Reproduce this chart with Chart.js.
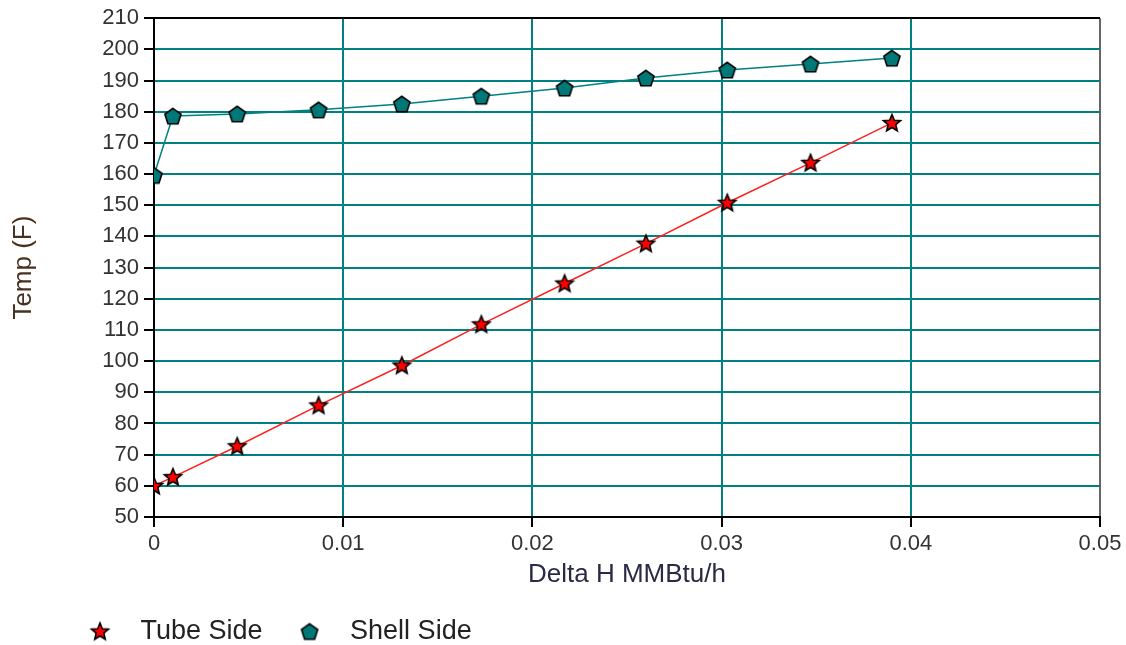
<!DOCTYPE html>
<html>
<head>
<meta charset="utf-8">
<script src="https://cdn.jsdelivr.net/npm/chart.js@4"></script>
<style>
  html, body { margin: 0; padding: 0; background: #fff; }
  #wrap { width: 1126px; height: 645px; }
</style>
</head>
<body>
<div id="wrap"><canvas id="tempChart" width="1126" height="645"></canvas></div>
<script>
// values
const tubeX = [0, 0.001, 0.0044, 0.0087, 0.0131, 0.0173, 0.0217, 0.026, 0.0303, 0.0347, 0.039];
const tubeTemp = [60, 62.8, 72.7, 85.8, 98.6, 111.8, 124.9, 137.7, 150.8, 163.6, 176.4];
const shellX = [0, 0.001, 0.0044, 0.0087, 0.0131, 0.0173, 0.0217, 0.026, 0.0303, 0.0347, 0.039];
const shellTemp = [159.6, 178.6, 179.3, 180.6, 182.5, 185, 187.6, 190.8, 193.4, 195.3, 197.2];
const xTicks = [0, 0.01, 0.02, 0.03, 0.04, 0.05];

const TEAL = '#008080';

// little marker images: red star and teal pentagon, both black edged
function marker(kind, fill) {
  const c = document.createElement('canvas');
  c.width = 22; c.height = 22;
  const g = c.getContext('2d');
  g.beginPath();
  if (kind === 'star') {
    for (let i = 0; i < 10; i++) {
      const r = i % 2 === 0 ? 9 : 4;
      const a = -Math.PI / 2 + i * Math.PI / 5;
      const px = 11 + r * Math.cos(a), py = 11.5 + r * Math.sin(a);
      i === 0 ? g.moveTo(px, py) : g.lineTo(px, py);
    }
  } else {
    for (let i = 0; i < 5; i++) {
      const a = -Math.PI / 2 + i * 2 * Math.PI / 5;
      const px = 11 + 8.5 * Math.cos(a), py = 11.8 + 8.5 * Math.sin(a);
      i === 0 ? g.moveTo(px, py) : g.lineTo(px, py);
    }
  }
  g.closePath();
  g.fillStyle = fill;
  g.fill();
  g.lineWidth = 1.6;
  g.strokeStyle = '#000';
  g.stroke();
  return c;
}
const starImg = marker('star', '#ff0000');
const pentImg = marker('pent', '#007878');

const toPts = (xs, ys) => xs.map((x, i) => ({ x: x, y: ys[i] }));

const ctx = document.getElementById('tempChart').getContext('2d');
const tempChart = new Chart(ctx, {
  type: 'line',
  data: {
    datasets: [{
      label: 'Tube Side',
      data: toPts(tubeX, tubeTemp),
      borderColor: '#ff2020',
      borderWidth: 1.5,
      pointStyle: starImg,
      tension: 0
    }, {
      label: 'Shell Side',
      data: toPts(shellX, shellTemp),
      borderColor: TEAL,
      borderWidth: 1.5,
      pointStyle: pentImg,
      tension: 0
    }]
  },
  options: {
    responsive: false,
    animation: false,
    layout: { padding: { left: 53, right: 26, top: 18, bottom: -10 } },
    scales: {
      x: {
        type: 'linear',
        min: 0,
        max: 0.05,
        afterBuildTicks: s => { s.ticks = xTicks.map(v => ({ value: v })); },
        afterFit: s => { s.height = 81; },
        border: { color: '#000', width: 2 },
        grid: {
          color: c => (c.tick && c.tick.value === 0.05) ? '#666' : TEAL,
          lineWidth: 2,
          tickColor: '#000',
          tickLength: 10
        },
        ticks: {
          padding: 4,
          color: '#333',
          font: { family: 'Liberation Sans', size: 22 },
          callback: v => String(+v.toFixed(2))
        },
        title: {
          display: true,
          text: 'Delta H MMBtu/h',
          color: '#2a2a44',
          font: { family: 'Liberation Sans', size: 26 },
          padding: { top: 0, bottom: 8 }
        }
      },
      y: {
        min: 50,
        max: 210,
        afterFit: s => { s.width = 101; },
        border: { color: '#000', width: 2 },
        grid: {
          color: c => (c.tick && c.tick.value === 210) ? '#000' : TEAL,
          lineWidth: 2,
          tickColor: '#000',
          tickLength: 10
        },
        ticks: {
          stepSize: 10,
          padding: 5,
          color: '#333',
          font: { family: 'Liberation Sans', size: 22 }
        },
        title: {
          display: true,
          text: 'Temp (F)',
          color: '#4a3020',
          font: { family: 'Liberation Sans', size: 26 },
          padding: { top: -45, bottom: 0 }
        }
      }
    },
    plugins: {
      legend: {
        position: 'bottom',
        align: 'start',
        labels: {
          usePointStyle: true,
          pointStyleWidth: 54,
          padding: 20,
          color: '#222',
          font: { family: 'Liberation Sans', size: 27 }
        }
      },
      tooltip: { enabled: false }
    }
  }
});
</script>
</body>
</html>
